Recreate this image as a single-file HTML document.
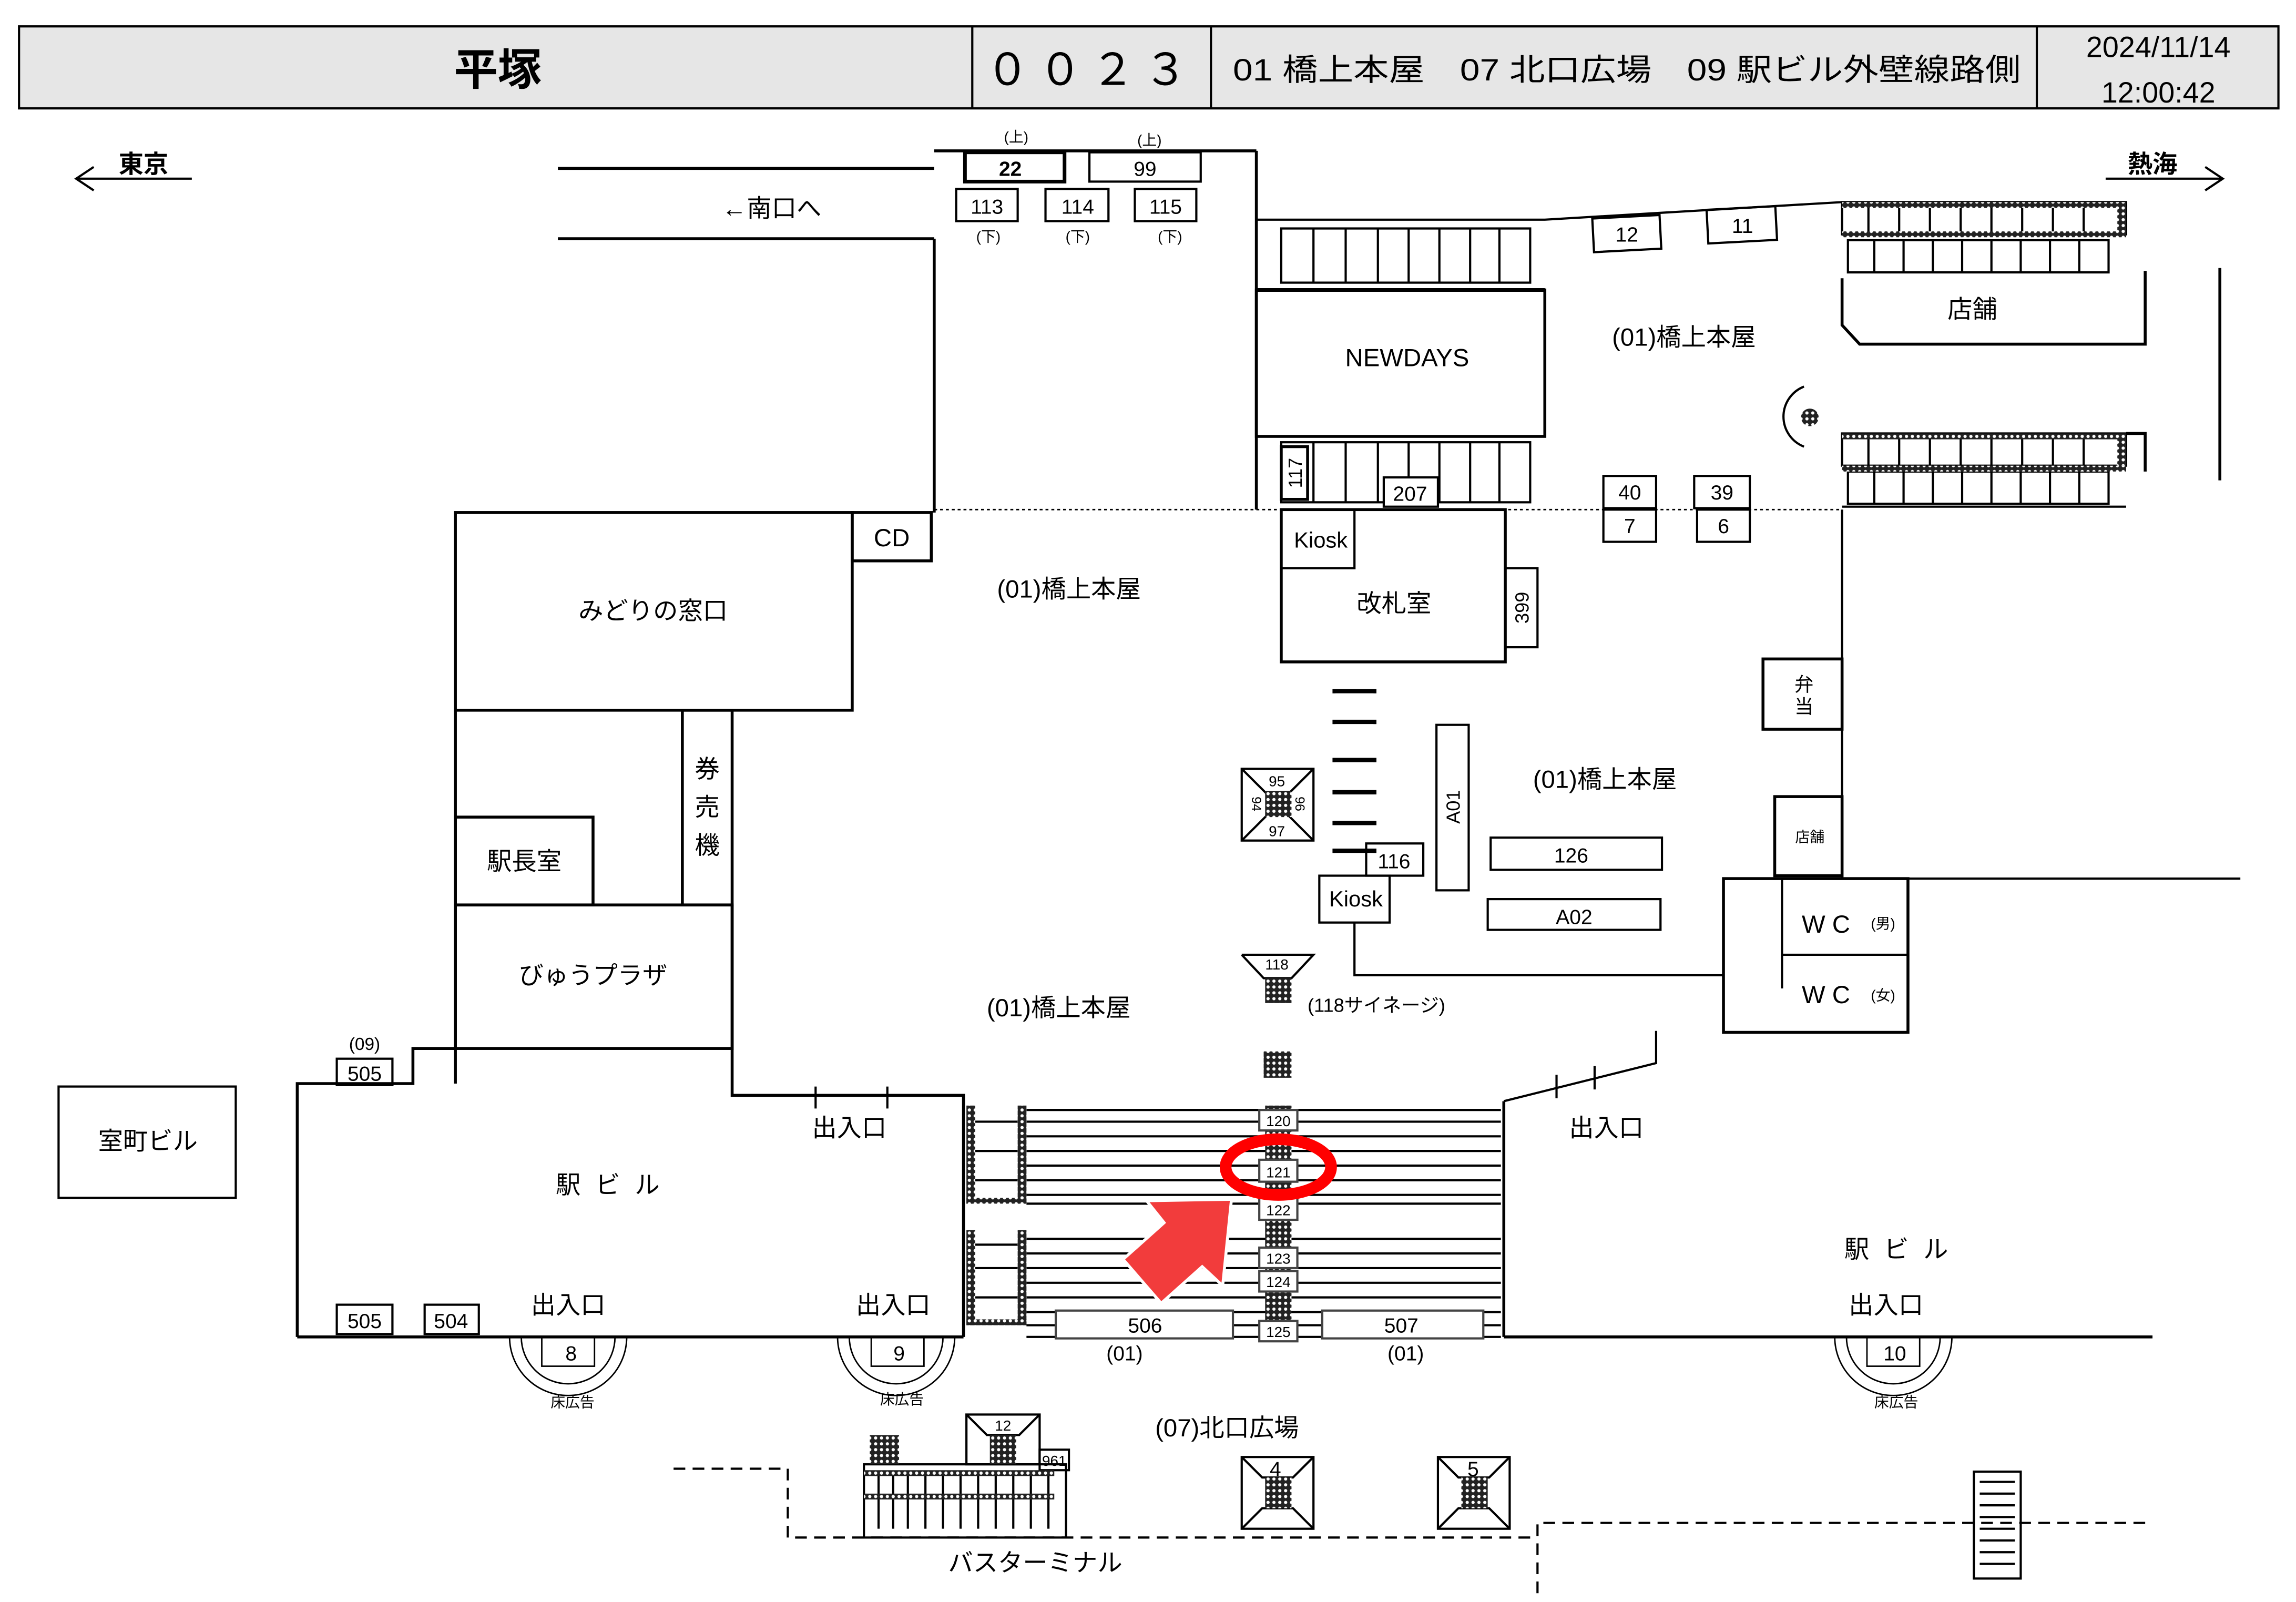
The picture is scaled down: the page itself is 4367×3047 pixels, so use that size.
<!DOCTYPE html>
<html><head><meta charset="utf-8"><style>
html,body{margin:0;padding:0;background:#fff;}
svg{display:block;}
text{font-family:"Liberation Sans","Noto Sans CJK JP",sans-serif;fill:#000;}
</style></head><body>
<svg width="4367" height="3047" viewBox="0 0 1568 1094" xmlns="http://www.w3.org/2000/svg">
<defs>
<pattern id="h" width="4" height="4" patternUnits="userSpaceOnUse"><rect width="4" height="4" fill="#222"/><circle cx="2" cy="2" r="1.1" fill="#fff"/></pattern>
</defs>
<rect width="1568" height="1094" fill="#fff"/>
<!-- header -->
<rect x="13" y="18" width="1543" height="56" fill="#e6e6e6" stroke="#000" stroke-width="1.5"/>
<line x1="664" y1="18" x2="664" y2="74" stroke="#000" stroke-width="1.5"/>
<line x1="827" y1="18" x2="827" y2="74" stroke="#000" stroke-width="1.5"/>
<line x1="1391" y1="18" x2="1391" y2="74" stroke="#000" stroke-width="1.5"/>
<text x="340" y="58" font-size="30" text-anchor="middle" font-weight="bold">平塚</text>
<text x="745" y="58" font-size="30" text-anchor="middle" letter-spacing="6">００２３</text>
<text x="842" y="55" font-size="21" textLength="538" lengthAdjust="spacingAndGlyphs">01 橋上本屋　07 北口広場　09 駅ビル外壁線路側</text>
<text x="1474" y="39" font-size="20" text-anchor="middle">2024/11/14</text>
<text x="1474" y="70" font-size="20" text-anchor="middle">12:00:42</text>

<g stroke="#000" fill="none" stroke-width="1.5">
<line x1="52" y1="122" x2="131" y2="122"/><polyline points="64,114 52,122 64,130"/>
<line x1="1438" y1="122" x2="1518" y2="122"/><polyline points="1506,114 1518,122 1506,130"/>
<line x1="381" y1="115" x2="638" y2="115" stroke-width="2"/>
<line x1="381" y1="163" x2="638" y2="163" stroke-width="2"/>
<line x1="638" y1="163" x2="638" y2="350" stroke-width="2"/>
<line x1="638" y1="103" x2="858" y2="103" stroke-width="2"/>
<line x1="858" y1="103" x2="858" y2="348" stroke-width="2"/>
<line x1="638" y1="348" x2="1258" y2="348" stroke-dasharray="2,2" stroke-width="1"/>
<polyline points="858,150 1055,150 1258,138"/>
<rect x="875" y="156" width="170" height="37"/>
<path d="M897,156v37M919,156v37M941,156v37M962,156v37M983,156v37M1004,156v37M1024,156v37"/>
<line x1="858" y1="198" x2="1055" y2="198" stroke-width="2.5"/>
<rect x="858" y="198" width="197" height="100" stroke-width="2"/>
<rect x="875" y="302" width="170" height="41"/>
<path d="M897,302v41M919,302v41M941,302v41M962,302v41M983,302v41M1004,302v41M1024,302v41"/>
<rect x="1258" y="138" width="194" height="22" fill="#fff"/>
<path d="M1276,140v20M1297,140v20M1318,140v20M1339,140v20M1360,140v20M1381,140v20M1402,140v20M1423,140v20"/>
<rect x="1262" y="164" width="178" height="22"/>
<path d="M1280,164v22M1300,164v22M1320,164v22M1340,164v22M1360,164v22M1380,164v22M1400,164v22M1420,164v22"/>
<polyline points="1258,190 1258,222 1270,235 1465,235 1465,185" stroke-width="2"/>
<line x1="1516" y1="183" x2="1516" y2="328" stroke-width="2"/>
<rect x="1258" y="296" width="194" height="22"/>
<path d="M1276,298v20M1297,298v20M1318,298v20M1339,298v20M1360,298v20M1381,298v20M1402,298v20M1423,298v20"/>
<rect x="1262" y="322" width="178" height="22"/>
<path d="M1280,322v22M1300,322v22M1320,322v22M1340,322v22M1360,322v22M1380,322v22M1400,322v22M1420,322v22"/>
<line x1="1258" y1="346" x2="1452" y2="346"/>
<polyline points="1452,296 1465,296 1465,322" stroke-width="2"/>
<path d="M1232,264 A22,22 0 0 0 1232,305" />
<line x1="1258" y1="348" x2="1258" y2="600"/>
<rect x="659" y="104" width="68" height="20" stroke-width="2.5"/>
<rect x="744" y="104" width="76" height="20"/>
<rect x="653" y="129" width="42" height="22"/>
<rect x="714" y="129" width="43" height="22"/>
<rect x="775" y="129" width="42" height="22"/>
<rect x="1088" y="148" width="46" height="23" transform="rotate(-3 1111 160)"/>
<rect x="1166" y="142" width="47" height="23" transform="rotate(-3 1190 153)"/>
<rect x="875" y="305" width="18" height="36" stroke-width="2"/>
<rect x="945" y="326" width="37" height="20" fill="#fff"/>
<rect x="1095" y="325" width="36" height="22"/>
<rect x="1095" y="348" width="36" height="22"/>
<rect x="1157" y="325" width="38" height="22"/>
<rect x="1159" y="348" width="36" height="22"/>
<rect x="875" y="348" width="50" height="40"/>
<rect x="875" y="348" width="153" height="104" stroke-width="2"/>
<rect x="1028" y="388" width="22" height="54"/>
<rect x="311" y="350" width="271" height="135" stroke-width="2"/>
<rect x="582" y="350" width="54" height="33" stroke-width="2"/>
<rect x="311" y="558" width="94" height="60" stroke-width="2"/>
<rect x="466" y="485" width="34" height="133" stroke-width="2"/>
<rect x="311" y="618" width="189" height="98" stroke-width="2"/>
<line x1="311" y1="485" x2="311" y2="740" stroke-width="2"/>
<polyline points="500,618 500,748 658,748 658,913" stroke-width="2"/>
<polyline points="203,913 203,740 282,740 282,716 311,716" stroke-width="2"/>
<line x1="203" y1="913" x2="658" y2="913" stroke-width="2"/>
<path d="M557,742v15M606,742v15"/>
<rect x="230" y="723" width="38" height="18"/>
<rect x="40" y="742" width="121" height="76"/>
<rect x="230" y="891" width="38" height="20"/>
<rect x="290" y="891" width="37" height="20"/>
<g stroke-width="1">
<path d="M348,913 A40,40 0 0 0 428,913"/><path d="M356,913 A32,32 0 0 0 420,913"/><rect x="370" y="913" width="36" height="20"/>
<path d="M572,913 A40,40 0 0 0 652,913"/><path d="M580,913 A32,32 0 0 0 644,913"/><rect x="595" y="913" width="36" height="20"/>
<path d="M1253,913 A40,40 0 0 0 1333,913"/><path d="M1261,913 A32,32 0 0 0 1325,913"/><rect x="1275" y="913" width="36" height="20"/>
</g>
<path d="M701,758H1025M701,766H1025M701,776H1025M701,786H1025M701,796H1025M701,806H1025M701,816H1025M701,822H1025"/>
<path d="M701,846H1025M701,856H1025M701,866H1025M701,876H1025M701,886H1025M701,896H1025M701,905H1025M701,913H1025"/>
<path d="M666,766H695M666,786H695M666,806H695M666,850H695M666,866H695M666,886H695"/>
<line x1="1027" y1="752" x2="1027" y2="913" stroke-width="2"/>
<line x1="1027" y1="913" x2="1470" y2="913" stroke-width="2"/>
<polyline points="1027,752 1131,726 1131,704"/>
<line x1="1063" y1="734" x2="1063" y2="750"/><line x1="1089" y1="728" x2="1089" y2="744"/>
<path d="M910,472h30M910,493h30M910,519h30M910,541h30M910,562h30M910,581h30" stroke-width="3"/>
<path d="M912,474h26M912,495h26M912,521h26M912,543h26M912,564h26M912,583h26" stroke="#fff" stroke-width="1"/>
<rect x="848" y="525" width="49" height="49"/>
<path d="M848,525L897,574M897,525L848,574"/>
<rect x="981" y="495" width="22" height="113"/>
<rect x="933" y="576" width="39" height="22"/>
<rect x="901" y="598" width="48" height="32"/>
<rect x="1018" y="572" width="117" height="22"/>
<rect x="1016" y="614" width="118" height="21"/>
<polyline points="925,630 925,666 1177,666"/>
<rect x="1177" y="600" width="126" height="105" stroke-width="2"/>
<line x1="1217" y1="600" x2="1217" y2="675"/><line x1="1217" y1="652" x2="1303" y2="652"/>
<line x1="1303" y1="600" x2="1530" y2="600"/>
<rect x="1212" y="544" width="46" height="54" stroke-width="2"/>
<rect x="1204" y="450" width="54" height="48" stroke-width="2"/>
<polyline points="848,652 897,652 882,668 863,668 848,652"/>
<polyline points="460,1003 538,1003 538,1050 1050,1050" stroke-dasharray="8,5"/>
<polyline points="1050,1088 1050,1040 1470,1040" stroke-dasharray="8,5"/>
<rect x="590" y="1000" width="138" height="50"/>
<path d="M600,1006v38M610,1006v38M620,1006v38M632,1006v38M644,1006v38M656,1006v38M668,1006v38M680,1006v38M692,1006v38M704,1006v38M716,1006v38"/>
<rect x="660" y="966" width="50" height="34"/><path d="M660,966l14,14h22l14,-14"/>
<rect x="710" y="990" width="20" height="14"/>
<rect x="848" y="995" width="49" height="49"/><path d="M848,995l14,14h21l14,-14M848,1044l14,-14h21l14,14"/>
<rect x="982" y="995" width="49" height="49"/><path d="M982,995l14,14h21l14,-14M982,1044l14,-14h21l14,14"/>
<rect x="1348" y="1005" width="32" height="73"/>
<path d="M1352,1012h24M1352,1020h24M1352,1028h24M1352,1036h24M1352,1044h24M1352,1052h24M1352,1060h24M1352,1068h24"/>
</g>
<g fill="url(#h)">
<rect x="1258" y="138" width="194" height="4"/><rect x="1258" y="158" width="194" height="4"/><rect x="1446" y="138" width="6" height="22"/>
<rect x="1258" y="296" width="194" height="4"/><rect x="1258" y="318" width="194" height="4"/><rect x="1446" y="296" width="6" height="22"/>
<circle cx="1236" cy="285" r="6"/>
<rect x="660" y="755" width="6" height="67"/><rect x="695" y="755" width="6" height="67"/><rect x="660" y="818" width="41" height="4"/>
<rect x="660" y="840" width="6" height="65"/><rect x="695" y="840" width="6" height="65"/><rect x="660" y="901" width="41" height="4"/>
<rect x="864" y="755" width="18" height="158"/>
<rect x="864" y="540" width="18" height="18"/>
<rect x="864" y="668" width="18" height="17"/>
<rect x="863" y="718" width="19" height="18"/>
<rect x="594" y="980" width="20" height="20"/>
<rect x="676" y="980" width="18" height="20"/>
<rect x="590" y="1004" width="130" height="4"/><rect x="590" y="1020" width="130" height="4"/>
<rect x="864" y="1009" width="18" height="21"/><rect x="998" y="1009" width="18" height="21"/>
</g>
<g fill="#fff" stroke="#444" stroke-width="1.5">
<rect x="860" y="758" width="26" height="14"/><rect x="860" y="792" width="26" height="15"/>
<rect x="860" y="818" width="26" height="15"/><rect x="860" y="852" width="26" height="14"/>
<rect x="860" y="868" width="26" height="14"/><rect x="860" y="902" width="26" height="14"/>
<rect x="721" y="895" width="121" height="19"/><rect x="903" y="895" width="110" height="19"/>
</g>
<ellipse cx="873" cy="797" rx="36" ry="19" fill="none" stroke="#f00" stroke-width="8"/>
<polygon points="783,820 841,819 835,878 821,865 793,890 767,860 795,835" fill="#f23c3c" stroke="#fff" stroke-width="2"/>
<g font-size="17">
<text x="98" y="118" text-anchor="middle" font-weight="bold">東京</text>
<text x="1470" y="118" text-anchor="middle" font-weight="bold">熱海</text>
<text x="527" y="148" text-anchor="middle">←南口へ</text>
<text x="961" y="250" text-anchor="middle">NEWDAYS</text>
<text x="1150" y="236" text-anchor="middle">(01)橋上本屋</text>
<text x="1347" y="217" text-anchor="middle">店舗</text>
<text x="730" y="408" text-anchor="middle">(01)橋上本屋</text>
<text x="1096" y="538" text-anchor="middle">(01)橋上本屋</text>
<text x="723" y="694" text-anchor="middle">(01)橋上本屋</text>
<text x="446" y="423" text-anchor="middle">みどりの窓口</text>
<text x="609" y="373" text-anchor="middle">CD</text>
<text x="358" y="594" text-anchor="middle">駅長室</text>
<text x="405" y="672" text-anchor="middle">びゅうプラザ</text>
<text x="483" y="531" text-anchor="middle">券</text><text x="483" y="557" text-anchor="middle">売</text><text x="483" y="583" text-anchor="middle">機</text>
<text x="952" y="418" text-anchor="middle">改札室</text>
<text x="101" y="785" text-anchor="middle">室町ビル</text>
<text x="420" y="815" text-anchor="middle" letter-spacing="10">駅ビル</text>
<text x="1300" y="859" text-anchor="middle" letter-spacing="10">駅ビル</text>
<text x="580" y="776" text-anchor="middle">出入口</text>
<text x="388" y="897" text-anchor="middle">出入口</text>
<text x="610" y="897" text-anchor="middle">出入口</text>
<text x="1097" y="776" text-anchor="middle">出入口</text>
<text x="1288" y="897" text-anchor="middle">出入口</text>
<text x="838" y="981" text-anchor="middle">(07)北口広場</text>
<text x="707" y="1073" text-anchor="middle">バスターミナル</text>
<text x="1247" y="637" text-anchor="middle">W C</text>
<text x="1247" y="685" text-anchor="middle">W C</text>
</g>
<g font-size="14" text-anchor="middle">
<text x="690" y="120" font-weight="bold">22</text><text x="782" y="120">99</text>
<text x="674" y="146">113</text><text x="736" y="146">114</text><text x="796" y="146">115</text>
<text x="1111" y="165">12</text><text x="1190" y="159">11</text>
<text x="963" y="342">207</text>
<text x="1113" y="341">40</text><text x="1113" y="364">7</text>
<text x="1176" y="341">39</text><text x="1177" y="364">6</text>
<text x="902" y="374" font-size="15">Kiosk</text>
<text x="926" y="619" font-size="15">Kiosk</text>
<text x="952" y="593">116</text>
<text x="1073" y="589">126</text><text x="1075" y="631">A02</text>
<text x="249" y="738">505</text><text x="249" y="907">505</text><text x="308" y="907">504</text>
<text x="249" y="717" font-size="12">(09)</text>
<text x="390" y="929">8</text><text x="614" y="929">9</text><text x="1294" y="929">10</text>
<text x="782" y="910">506</text><text x="957" y="910">507</text>
<text x="768" y="929">(01)</text><text x="960" y="929">(01)</text>
<text x="871" y="1008">4</text><text x="1006" y="1008">5</text>
</g>
<g font-size="10" text-anchor="middle">
<text x="694" y="97">(上)</text><text x="785" y="99">(上)</text>
<text x="675" y="165">(下)</text><text x="736" y="165">(下)</text><text x="799" y="165">(下)</text>
<text x="873" y="769">120</text><text x="873" y="804">121</text><text x="873" y="830">122</text>
<text x="873" y="863">123</text><text x="873" y="879">124</text><text x="873" y="913">125</text>
<text x="872" y="662">118</text>
<text x="872" y="537">95</text><text x="872" y="571">97</text>
<text x="391" y="961">床広告</text><text x="616" y="959">床広告</text><text x="1295" y="961">床広告</text>
<text x="685" y="977">12</text><text x="720" y="1001">961</text>
<text x="1236" y="575">店舗</text>
<text x="1286" y="634">(男)</text><text x="1286" y="683">(女)</text>
</g>
<text x="940" y="691" font-size="13" text-anchor="middle">(118サイネージ)</text>
<text x="1232" y="472" font-size="13" text-anchor="middle">弁</text>
<text x="1232" y="487" font-size="13" text-anchor="middle">当</text>
<text transform="translate(889,323) rotate(-90)" font-size="13" text-anchor="middle">117</text>
<text transform="translate(1044,415) rotate(-90)" font-size="13" text-anchor="middle">399</text>
<text transform="translate(997,551) rotate(-90)" font-size="13" text-anchor="middle">A01</text>
<text transform="translate(855,549) rotate(90)" font-size="9" text-anchor="middle">94</text>
<text transform="translate(891,549) rotate(-90)" font-size="9" text-anchor="middle">96</text>
</svg>
</body></html>
